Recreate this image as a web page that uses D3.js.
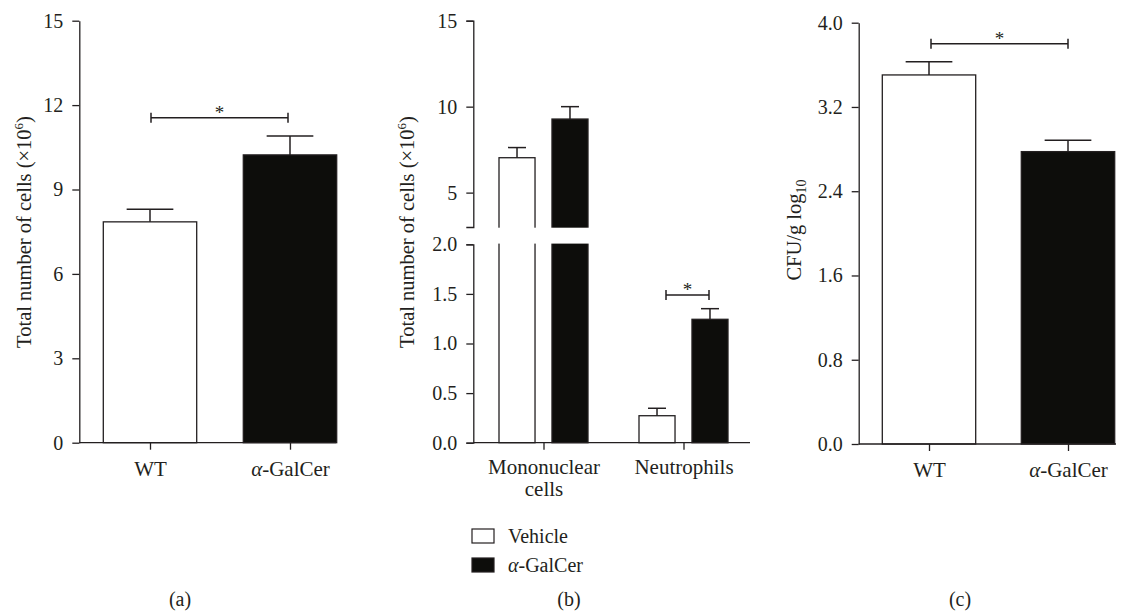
<!DOCTYPE html>
<html lang="en">
  <head>
    <meta charset="UTF-8" />
    <title>alpha-GalCer bars</title>
    <style>
      body {
        margin: 0;
        background: #fff;
      }
      svg {
        font-family: "Liberation Serif", "DejaVu Serif", serif;
        color: #231f20;
      }
      text {
        fill: #231f20;
      }
      .axis path,
      .axis line {
        stroke: #231f20;
        stroke-width: 1.3;
      }
      .axis text {
        font-size: 20px;
        font-family: "Liberation Serif", serif;
      }
      .xaxis text {
        font-size: 21px;
      }
      .bar {
        stroke: #231f20;
        stroke-width: 1.3;
      }
      .err,
      .sig {
        stroke: #231f20;
        stroke-width: 1.5;
        fill: none;
      }
    </style>
  </head>
  <body>
    <svg width="1131" height="616"></svg>
  </body>
  <script src="https://cdn.jsdelivr.net/npm/d3@7"></script>
  <script>
    // panel (a): total cells
    let groupsA = ["WT", "α-GalCer"];
    let meansA = [7.85, 10.23];
    let semA = [0.45, 0.67];
    let ticksA = [0, 3, 6, 9, 12, 15];

    // panel (b): cell types, broken axis
    let groupsB = ["Mononuclear cells", "Neutrophils"];
    let seriesB = ["Vehicle", "α-GalCer"];
    let vehicleB = [7.03, 0.272];
    let vehicleSemB = [0.59, 0.075];
    let galcerB = [9.28, 1.244];
    let galcerSemB = [0.72, 0.107];
    let ticksBTop = [5, 10, 15];
    let ticksBBottom = [0, 0.5, 1.0, 1.5, 2.0];

    // panel (c): CFU
    let groupsC = ["WT", "α-GalCer"];
    let meansC = [3.504, 2.776];
    let semC = [0.126, 0.108];
    let ticksC = [0, 0.8, 1.6, 2.4, 3.2, 4.0];

    const fills = ["#ffffff", "#0d0d0b"];
    const svg = d3.select("svg");

    // write "α-GalCer" with italic alpha
    function richLabel(sel, s) {
      sel.text(null);
      if (s.startsWith("α")) {
        sel.append("tspan").attr("font-style", "italic").text("α");
        sel.append("tspan").text(s.slice(1));
      } else {
        sel.text(s);
      }
    }

    function xAxisLine(g, x0, x1, y) {
      g.append("line")
        .attr("x1", x0)
        .attr("x2", x1)
        .attr("y1", y)
        .attr("y2", y)
        .attr("stroke", "#231f20")
        .attr("stroke-width", 1.3);
    }

    function errorBars(g, xs, tops, errTops, half) {
      xs.forEach((x, i) => {
        g.append("line").attr("class", "err")
          .attr("x1", x).attr("x2", x)
          .attr("y1", tops[i]).attr("y2", errTops[i]);
        g.append("line").attr("class", "err")
          .attr("x1", x - half).attr("x2", x + half)
          .attr("y1", errTops[i]).attr("y2", errTops[i]);
      });
    }

    function sigBracket(g, xa, xb, y) {
      g.append("path").attr("class", "sig")
        .attr("d", `M${xa},${y - 5}V${y + 5}M${xa},${y}H${xb}M${xb},${y - 5}V${y + 5}`);
      g.append("text")
        .attr("x", (xa + xb) / 2)
        .attr("y", y + 1)
        .attr("text-anchor", "middle")
        .attr("font-size", 19)
        .text("*");
    }

    function yLabel(x, y, build) {
      const t = svg.append("text")
        .attr("transform", `translate(${x},${y}) rotate(-90)`)
        .attr("text-anchor", "middle")
        .attr("font-size", 20.5);
      build(t);
    }

    // simple two-bar panel (a) and (c)
    function simplePanel(groups, means, sem, ticks, yRange, axisX, xCenters, xEnd, fmt) {
      const g = svg.append("g");
      const y = d3.scaleLinear().domain([ticks[0], ticks[ticks.length - 1]]).range(yRange);
      const x = d3.scalePoint().domain(groups).range(xCenters);
      const bw = 93.4;

      g.selectAll("rect.bar")
        .data(groups)
        .join("rect")
        .attr("class", "bar")
        .attr("x", (d) => x(d) - bw / 2)
        .attr("width", bw)
        .attr("y", (d, i) => y(means[i]))
        .attr("height", (d, i) => y(0) - y(means[i]))
        .attr("fill", (d, i) => fills[i]);

      errorBars(
        g,
        groups.map((d) => x(d)),
        means.map((m) => y(m)),
        means.map((m, i) => y(m + sem[i])),
        bw / 4
      );

      g.append("g")
        .attr("class", "axis")
        .attr("transform", `translate(${axisX},0)`)
        .call(d3.axisLeft(y).tickValues(ticks).tickSize(7).tickSizeOuter(0).tickPadding(9).tickFormat(fmt));

      xAxisLine(g, axisX, xEnd, y(0));
      const xa = g.append("g")
        .attr("class", "axis xaxis")
        .attr("transform", `translate(0,${y(0)})`)
        .call(d3.axisBottom(x).tickSize(7).tickPadding(11));
      xa.select(".domain").remove();
      xa.selectAll("text").attr("dy", "0.71em").each(function (d) {
        richLabel(d3.select(this), d);
      });
      return { g, x, y };
    }

    // ---- panel (a)
    const pa = simplePanel(groupsA, meansA, semA, ticksA, [442.7, 20.7], 79.3, [150, 290], 336, d3.format("d"));
    sigBracket(pa.g, 151, 288, pa.y(11.55));
    yLabel(31, 232, (t) => {
      t.append("tspan").text("Total number of cells (×10");
      t.append("tspan").attr("font-size", 13).attr("dy", -8).text("6");
      t.append("tspan").attr("dy", 8).text(")");
    });

    // ---- panel (c)
    const pc = simplePanel(groupsC, meansC, semC, ticksC, [444, 22.7], 858.7, [929, 1068], 1116, d3.format(".1f"));
    sigBracket(pc.g, 931, 1068, pc.y(3.8));
    yLabel(801, 230, (t) => {
      t.append("tspan").text("CFU/g log");
      t.append("tspan").attr("font-size", 14).attr("dy", 5).text("10");
    });

    // ---- panel (b): broken y axis
    const gb = svg.append("g");
    const axisXB = 473.3;
    const yTop = d3.scaleLinear().domain([3, 15]).range([227, 20.7]);
    const yBot = d3.scaleLinear().domain([0, 2]).range([442.7, 244.3]);
    const yB = (v) => (v > 2 ? yTop(v) : yBot(v));
    const x0 = d3.scalePoint().domain(groupsB).range([543.5, 683.5]);
    const x1 = d3.scaleBand().domain(seriesB).range([-44.5, 44.5]).paddingInner(0.32);
    const valsB = [vehicleB, galcerB];
    const semsB = [vehicleSemB, galcerSemB];

    const barsB = [];
    seriesB.forEach((s, si) => {
      groupsB.forEach((grp, gi) => {
        barsB.push({ s, si, grp, v: valsB[si][gi], e: semsB[si][gi] });
      });
    });

    gb.selectAll("rect.bar")
      .data(barsB)
      .join("rect")
      .attr("class", "bar")
      .attr("x", (d) => x0(d.grp) + x1(d.s))
      .attr("width", x1.bandwidth())
      .attr("y", (d) => yB(d.v))
      .attr("height", (d) => yBot(0) - yB(d.v))
      .attr("fill", (d) => fills[d.si]);

    errorBars(
      gb,
      barsB.map((d) => x0(d.grp) + x1(d.s) + x1.bandwidth() / 2),
      barsB.map((d) => yB(d.v)),
      barsB.map((d) => yB(d.v + d.e)),
      x1.bandwidth() / 4
    );

    // gap of the axis break
    gb.append("rect")
      .attr("x", axisXB - 12)
      .attr("y", yTop(3) + 0.7)
      .attr("width", 300)
      .attr("height", yBot(2) - yTop(3) - 1.4)
      .attr("fill", "#fff");

    gb.append("g")
      .attr("class", "axis")
      .attr("transform", `translate(${axisXB},0)`)
      .call(d3.axisLeft(yTop).tickValues(ticksBTop).tickSize(7).tickSizeOuter(7).tickPadding(9).tickFormat(d3.format("d")));
    gb.append("g")
      .attr("class", "axis")
      .attr("transform", `translate(${axisXB},0)`)
      .call(d3.axisLeft(yBot).tickValues(ticksBBottom).tickSize(7).tickSizeOuter(7).tickPadding(9).tickFormat(d3.format(".1f")));

    xAxisLine(gb, axisXB, 750, yBot(0));
    const xb = gb.append("g")
      .attr("class", "axis xaxis")
      .attr("transform", `translate(0,${yBot(0)})`)
      .call(d3.axisBottom(x0).tickSize(7).tickPadding(11).tickFormat(() => ""));
    xb.select(".domain").remove();
    xb.selectAll(".tick").each(function (d) {
      const words = d === "Mononuclear cells" ? ["Mononuclear", "cells"] : [d];
      words.forEach((w, i) => {
        d3.select(this).append("text")
          .attr("fill", "#231f20")
          .attr("text-anchor", "middle")
          .attr("y", 31 + i * 22)
          .text(w);
      });
    });

    sigBracket(gb, 666, 709, yBot(1.49));
    yLabel(414, 232, (t) => {
      t.append("tspan").text("Total number of cells (×10");
      t.append("tspan").attr("font-size", 13).attr("dy", -8).text("6");
      t.append("tspan").attr("dy", 8).text(")");
    });

    // legend for (b)
    const legend = svg.append("g").attr("transform", "translate(472,529)");
    legend.selectAll("rect")
      .data(seriesB)
      .join("rect")
      .attr("x", 0)
      .attr("y", (d, i) => i * 29)
      .attr("width", 22)
      .attr("height", 14)
      .attr("fill", (d, i) => fills[i])
      .attr("stroke", "#231f20")
      .attr("stroke-width", 1.2);
    legend.selectAll("text")
      .data(seriesB)
      .join("text")
      .attr("x", 36)
      .attr("y", (d, i) => i * 29 + 14)
      .attr("font-size", 20)
      .each(function (d) {
        richLabel(d3.select(this), d);
      });

    // panel letters
    svg.selectAll("text.panel")
      .data([["(a)", 180], ["(b)", 569], ["(c)", 960]])
      .join("text")
      .attr("class", "panel")
      .attr("x", (d) => d[1])
      .attr("y", 606)
      .attr("text-anchor", "middle")
      .attr("font-size", 20)
      .text((d) => d[0]);
  </script>
</html>
